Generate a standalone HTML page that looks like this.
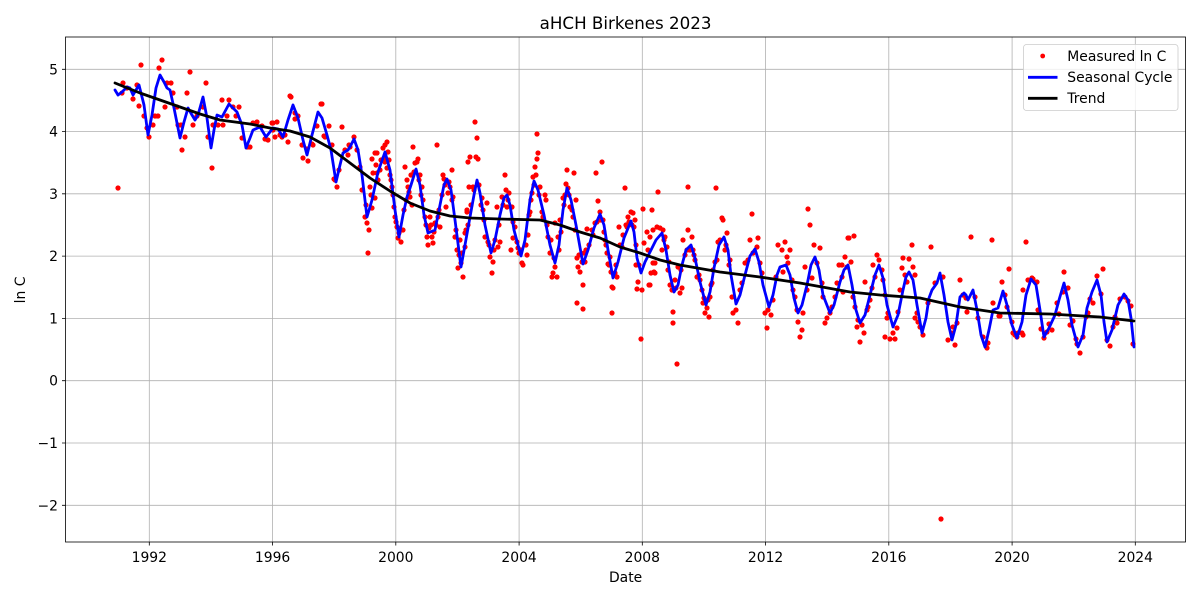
<!DOCTYPE html>
<html><head><meta charset="utf-8"><style>
html,body{margin:0;padding:0;background:#fff;}
svg{display:block;font-family:"DejaVu Sans","Liberation Sans",sans-serif;}
</style></head><body>
<svg width="1200" height="600" viewBox="0 0 1200 600" xmlns="http://www.w3.org/2000/svg">
<rect width="1200" height="600" fill="#fff"/>
<text x="625.6" y="29" font-size="16.7" text-anchor="middle" fill="#000">aHCH Birkenes 2023</text>
<g stroke="#b0b0b0" stroke-width="0.8" fill="none">
<path d="M149.3 37V542M272.6 37V542M395.8 37V542M519.1 37V542M642.3 37V542M765.6 37V542M888.8 37V542M1012.1 37V542M1135.3 37V542"/>
<path d="M65.5 69.3H1185.5M65.5 131.5H1185.5M65.5 193.8H1185.5M65.5 256.1H1185.5M65.5 318.4H1185.5M65.5 380.7H1185.5M65.5 443H1185.5M65.5 505.3H1185.5"/>
</g>
<path stroke="#ff0000" stroke-width="5.2" stroke-linecap="round" fill="none" d="M118 188h0M123 83h0M122 93h0M127 88h0M133 99h0M137 85h0M139 106h0M141 65h0M144 116h0M147 128h0M149 137h0M153 125h0M155 116h0M158 116h0M159 68h0M162 60h0M165 107h0M167 83h0M171 83h0M173 93h0M177 107h0M178 125h0M182 150h0M181 125h0M185 137h0M187 93h0M190 72h0M193 125h0M197 116h0M203 107h0M206 83h0M208 137h0M212 168h0M213 125h0M222 100h0M218 125h0M223 125h0M227 116h0M229 100h0M233 107h0M236 116h0M239 107h0M242 138h0M247 147h0M250 147h0M253 123h0M257 122h0M262 126h0M265 139h0M268 140h0M273 123h0M277 122h0M273 130h0M280 135h0M282 137h0M288 142h0M290 96h0M295 119h0M298 116h0M302 145h0M303 158h0M308 161h0M307 149h0M312 144h0M317 126h0M321 104h0M325 137h0M329 126h0M335 180h0M337 187h0M342 127h0M345 150h0M349 145h0M354 137h0M357 150h0M360 167h0M372 159h0M375 153h0M377 173h0
M272 123h0M275 137h0M285 135h0M291 97h0M295 113h0M313 145h0M322 104h0M324 136h0M332 145h0M334 179h0M339 170h0M348 155h0M350 147h0M365 217h0M367 223h0M368 253h0M370 187h0M372 208h0M373 173h0M375 198h0M377 153h0M378 180h0M380 170h0M383 148h0M385 145h0M387 142h0M388 152h0M389 160h0M385 162h0M387 168h0M390 175h0M392 187h0M394 207h0M395 217h0M397 227h0M399 233h0M401 242h0M398 238h0M403 230h0M405 167h0M407 180h0M408 187h0M410 197h0M412 205h0M413 147h0M415 163h0M417 162h0M418 159h0M420 175h0M422 187h0M423 200h0M425 217h0M427 237h0M428 245h0M430 217h0M432 237h0M433 243h0M435 223h0M437 145h0M438 217h0M440 227h0M443 175h0M444 179h0M446 207h0M448 193h0M450 187h0M452 170h0M453 197h0M455 237h0M457 250h0M458 268h0M461 263h0M463 277h0M465 247h0M467 210h0M468 162h0M469 187h0
M475 122h0M477 138h0M470 157h0M476 157h0M478 159h0M473 187h0M467 212h0M465 233h0M462 253h0M468 225h0M482 198h0M483 210h0M487 203h0M485 237h0M488 242h0M490 257h0M492 273h0M493 262h0M495 240h0M497 207h0M498 247h0M500 242h0M502 197h0M505 175h0M507 207h0M509 193h0M512 207h0M511 250h0M513 238h0M515 227h0M517 242h0M519 253h0M522 263h0M523 265h0M527 255h0M528 235h0M530 212h0M532 193h0M533 177h0M535 167h0M537 159h0M538 153h0M537 134h0M536 175h0M540 187h0M542 212h0M543 217h0M545 195h0M546 200h0M548 237h0M550 253h0M552 277h0M553 273h0M555 267h0M557 277h0M555 223h0M558 237h0M560 220h0M563 198h0M565 195h0M566 184h0M567 170h0M568 188h0M570 207h0M573 217h0M574 173h0M576 200h0M577 258h0M578 267h0M580 272h0M582 262h0M583 285h0M584 253h0M586 250h0M587 229h0M577 303h0M583 309h0M592 230h0M595 223h0M596 173h0M598 201h0M600 212h0M602 162h0M603 220h0M605 240h0M607 253h0M608 264h0M610 257h0M612 287h0M613 288h0M612 313h0M615 273h0M617 277h0M619 227h0M622 247h0M625 188h0M627 227h0M628 217h0M631 212h0M633 213h0M634 227h0M635 220h0M636 265h0M637 289h0M638 282h0M642 290h0M641 339h0M643 209h0M644 243h0M647 232h0M648 250h0M650 237h0M652 210h0M653 263h0M655 273h0M657 227h0M658 192h0M649 285h0M651 273h0
M653 230h0M655 263h0M654 272h0M650 285h0M660 228h0M662 250h0M663 230h0M665 237h0M667 247h0M668 270h0M670 285h0M673 312h0M673 323h0M677 364h0M675 280h0M678 267h0M680 293h0M682 288h0M683 240h0M687 250h0M688 230h0M688 187h0M692 237h0M693 250h0M695 260h0M697 277h0M700 280h0M702 290h0M703 303h0M705 313h0M707 308h0M709 317h0M710 297h0M712 283h0M713 270h0M716 188h0M717 260h0M718 242h0M722 218h0M723 220h0M725 250h0M727 233h0M730 260h0M732 297h0M733 313h0M736 310h0M738 323h0M740 290h0M742 283h0M745 263h0M748 260h0M750 240h0M752 214h0M753 253h0M757 247h0M758 238h0M760 263h0M762 273h0M765 313h0M767 328h0M768 310h0M771 315h0M773 300h0M776 277h0M778 245h0M782 250h0M783 272h0M785 242h0M787 257h0M788 263h0M790 250h0M792 280h0M793 290h0M795 297h0M797 310h0M798 322h0M800 337h0M802 330h0M803 313h0M805 267h0M807 290h0M808 209h0M810 225h0M812 278h0M814 245h0M817 263h0M820 248h0M822 283h0M823 297h0M825 323h0M827 318h0M830 313h0M832 307h0M835 297h0M837 283h0M839 265h0M842 277h0M845 257h0M848 238h0M847 267h0
M842 265h0M843 292h0M849 238h0M854 236h0M851 262h0M853 297h0M855 307h0M857 327h0M858 320h0M860 342h0M862 325h0M864 333h0M865 282h0M867 310h0M868 307h0M870 300h0M872 288h0M873 265h0M875 277h0M877 255h0M879 260h0M882 270h0M883 280h0M885 295h0M887 318h0M888 313h0M885 337h0M890 339h0M893 333h0M895 339h0M897 328h0M898 312h0M900 290h0M902 268h0M903 258h0M905 275h0M907 282h0M909 259h0M912 245h0M913 267h0M915 275h0M915 318h0M917 313h0M918 322h0M920 327h0M923 335h0M928 303h0M931 247h0M935 283h0M943 277h0M948 340h0M952 333h0M955 345h0M953 327h0M957 323h0M960 280h0M963 295h0M966 298h0M967 312h0M971 237h0M975 297h0M978 318h0M983 337h0M987 348h0M988 343h0M992 240h0M993 303h0M999 316h0M1002 282h0M1005 295h0M1007 307h0M1009 269h0M1013 333h0M1017 337h0M1022 333h0M1023 290h0M1026 242h0M1032 278h0M1037 282h0M941 519h0
M1000 316h0M1012 322h0M1015 335h0M1018 333h0M1023 335h0M1028 280h0M1033 279h0M1038 310h0M1041 329h0M1044 338h0M1047 332h0M1049 324h0M1052 330h0M1057 303h0M1059 314h0M1063 292h0M1064 272h0M1068 288h0M1070 325h0M1073 321h0M1076 339h0M1077 344h0M1080 353h0M1083 337h0M1086 317h0M1088 313h0M1090 299h0M1093 303h0M1097 276h0M1101 294h0M1103 269h0M1107 340h0M1110 346h0M1113 327h0M1115 317h0M1117 323h0M1120 299h0M1125 297h0M1128 301h0M1131 306h0M1133 344h0
M362 190h0M366 205h0M369 230h0M371 195h0M376 165h0M381 160h0M384 158h0M391 180h0M393 195h0M396 222h0M400 230h0M404 210h0M406 200h0M409 192h0M411 175h0M414 172h0M419 180h0M421 195h0M426 225h0M429 228h0M431 225h0M434 232h0M436 225h0M439 210h0M442 195h0M445 185h0M449 182h0M452 200h0M456 230h0M459 255h0M460 240h0M466 230h0M471 205h0M474 190h0M479 185h0M481 205h0M484 220h0M489 245h0M494 250h0M499 225h0M503 205h0M506 190h0M508 200h0M513 222h0M518 248h0M521 250h0M526 245h0M529 215h0M531 200h0M534 185h0M539 195h0M547 225h0M551 240h0M554 258h0M559 250h0M561 232h0M564 205h0M569 195h0M572 210h0M575 230h0M579 255h0M585 262h0M589 245h0M593 235h0M597 222h0M601 220h0M604 232h0M606 245h0M609 265h0M611 272h0M616 265h0M620 245h0M623 235h0M626 225h0M629 222h0M632 225h0M636 245h0M639 265h0M664 240h0M669 262h0M672 290h0M676 288h0M681 270h0M685 255h0M690 250h0M694 255h0M699 275h0M704 298h0M708 300h0M711 285h0M715 262h0M720 240h0M726 245h0M729 265h0"/>
<polyline fill="none" stroke="#0000ff" stroke-width="2.8" stroke-linejoin="round" stroke-linecap="round" points="115,90 118,95 122,92 127,87 130,88 133,95 139,85 144,105 148,135 152,115 156,88 160,75 164,82 167,88 170,90 174,108 180,138 184,122 188,108 192,115 195,120 198,115 203,97 207,118 211,148 214,130 217,115 222,117 229,104 237,112 242,125 246,148 250,138 253,130 260,127 266,137 273,128 278,129 283,137 288,120 293,105 298,118 303,140 307,155 312,135 318,112 322,118 327,135 331,150 336,182 340,165 343,153 348,150 351,145 354,139 358,150 362,175 367,217 372,200 378,172 385,152 390,170 395,210 399,237 403,215 407,197 411,185 416,169 420,185 424,215 428,233 435,230 440,205 444,185 447,179 451,190 455,220 461,267 465,245 470,217 474,195 477,180 480,193 485,225 491,253 495,240 500,215 504,198 507,195 510,205 514,230 521,256 525,240 530,200 534,181 538,190 544,215 550,245 555,263 559,245 563,210 567,188 571,200 576,225 583,264 588,250 594,228 600,214 604,225 608,250 613,278 618,262 624,238 631,221 634,232 637,258 641,273 645,262 650,252 656,240 662,233 666,250 670,275 674,292 678,285 682,265 686,250 691,245 695,258 700,282 706,305 710,292 714,268 719,245 724,237 728,250 731,275 736,304 740,295 745,275 750,256 755,249 759,262 763,285 769,307 773,295 777,275 780,267 786,265 790,275 794,298 798,313 802,305 807,285 811,265 815,257 819,270 823,295 830,313 834,305 840,282 844,270 848,265 852,285 856,310 860,323 865,315 870,295 875,275 879,265 883,278 887,305 893,327 898,315 903,290 906,277 909,272 913,280 917,305 922,333 926,318 929,298 932,290 937,283 940,273 944,295 948,322 952,340 956,325 960,297 964,293 966,295 968,300 973,290 977,310 981,335 985,347 989,330 993,310 998,308 1003,291 1007,305 1012,325 1017,338 1022,322 1026,295 1031,279 1036,285 1040,310 1044,337 1049,328 1055,315 1059,300 1064,283 1068,300 1072,325 1078,347 1083,335 1087,308 1092,292 1097,280 1101,295 1104,322 1107,342 1112,330 1118,305 1124,294 1128,300 1131,318 1134,347"/>
<polyline fill="none" stroke="#000" stroke-width="2.8" stroke-linejoin="round" stroke-linecap="round" points="115,83 140,93 160,100 180,107 200,114 220,120 250,124 270,128 290,131 310,137 330,148 350,163 370,178 390,191 410,203 430,211 450,216 470,218 500,219 540,220 560,225 580,232 600,238 620,247 640,253 660,260 680,265 720,272 760,277 800,283 850,292 880,295 920,298 960,307 1000,313 1050,314 1100,317 1134,321"/>
<rect x="65.5" y="37" width="1120" height="505" fill="none" stroke="#000" stroke-width="0.8"/>
<g stroke="#000" stroke-width="0.8">
<path d="M62 69.3H65.5M62 131.5H65.5M62 193.8H65.5M62 256.1H65.5M62 318.4H65.5M62 380.7H65.5M62 443H65.5M62 505.3H65.5"/>
<path d="M149.3 542V545.5M272.6 542V545.5M395.8 542V545.5M519.1 542V545.5M642.3 542V545.5M765.6 542V545.5M888.8 542V545.5M1012.1 542V545.5M1135.3 542V545.5"/>
</g>
<g font-size="13.9" fill="#000" text-anchor="end">
<text x="58" y="74.3">5</text>
<text x="58" y="136.5">4</text>
<text x="58" y="198.8">3</text>
<text x="58" y="261.1">2</text>
<text x="58" y="323.4">1</text>
<text x="58" y="385.7">0</text>
<text x="58" y="448">−1</text>
<text x="58" y="510.3">−2</text>
</g>
<g font-size="13.9" fill="#000" text-anchor="middle">
<text x="149.3" y="562">1992</text>
<text x="272.6" y="562">1996</text>
<text x="395.8" y="562">2000</text>
<text x="519.1" y="562">2004</text>
<text x="642.3" y="562">2008</text>
<text x="765.6" y="562">2012</text>
<text x="888.8" y="562">2016</text>
<text x="1012.1" y="562">2020</text>
<text x="1135.3" y="562">2024</text>
</g>
<text x="625.6" y="582" font-size="13.9" text-anchor="middle" fill="#000">Date</text>
<text transform="translate(25,290) rotate(-90)" font-size="13.9" text-anchor="middle" fill="#000">ln C</text>
<rect x="1023.5" y="44.5" width="154.5" height="66" rx="3" ry="3" fill="#fff" fill-opacity="0.8" stroke="#cccccc" stroke-width="0.8"/>
<circle cx="1042.7" cy="56" r="2.4" fill="#ff0000"/>
<line x1="1028" y1="77.3" x2="1057.5" y2="77.3" stroke="#0000ff" stroke-width="2.8"/>
<line x1="1028" y1="98.3" x2="1057.5" y2="98.3" stroke="#000" stroke-width="2.8"/>
<g font-size="13.9" fill="#000">
<text x="1067.3" y="61">Measured ln C</text>
<text x="1067.3" y="82">Seasonal Cycle</text>
<text x="1067.3" y="103">Trend</text>
</g>
</svg>
</body></html>
